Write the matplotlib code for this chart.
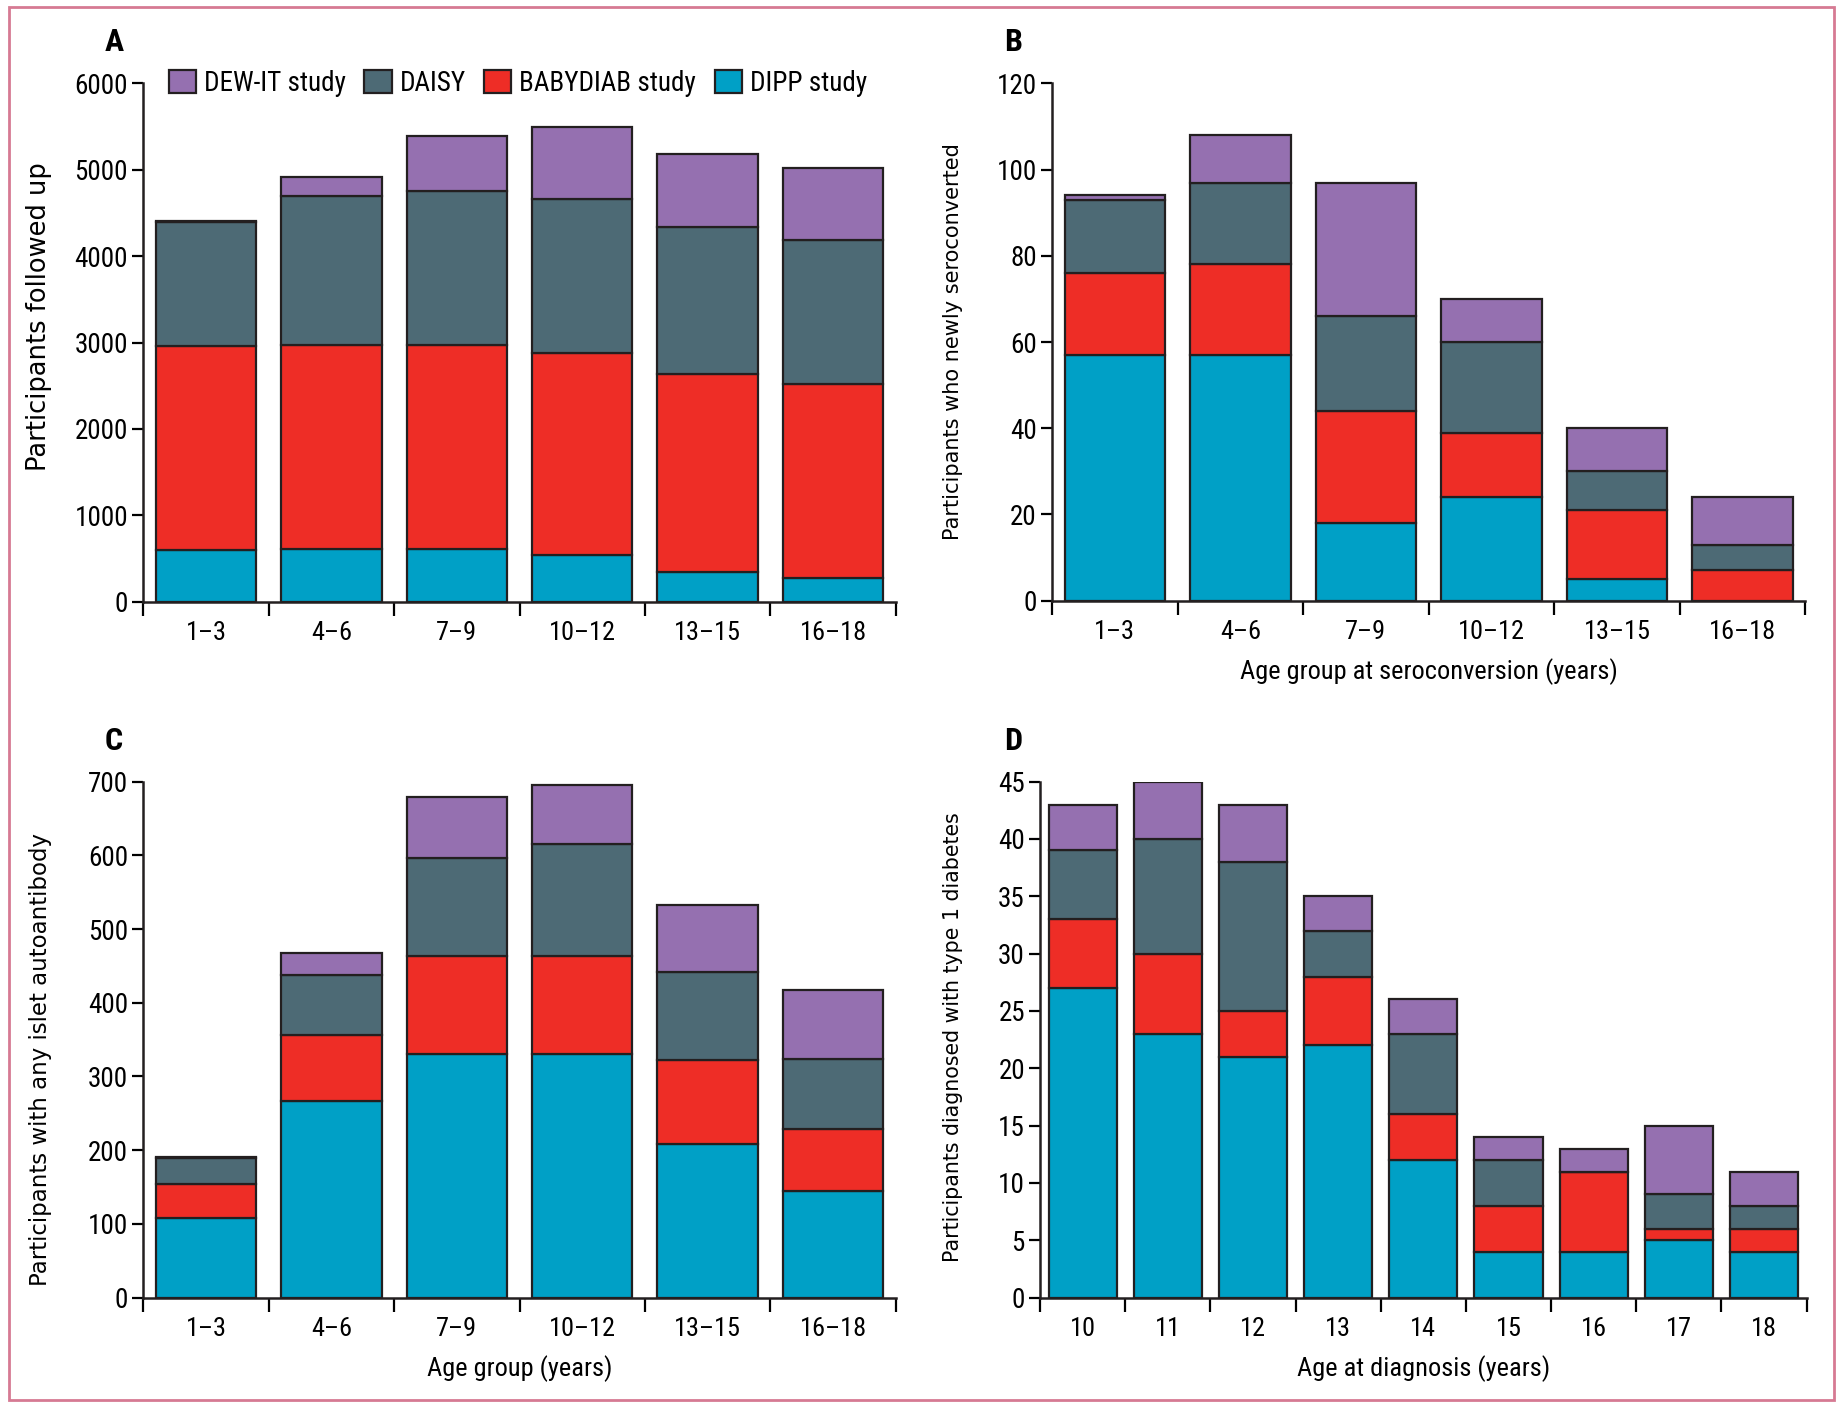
import numpy as np
import matplotlib
matplotlib.use("Agg")
import matplotlib.pyplot as plt
from matplotlib.patches import Rectangle
from matplotlib.ticker import FixedLocator
from matplotlib import font_manager

# studies, stacked bottom -> top
studies = ["DIPP study", "BABYDIAB study", "DAISY", "DEW-IT study"]
colors = ["#00a0c6", "#ee2d26", "#4d6a75", "#9570b0"]
edge = "#231f20"

age_groups = ["1\u20133", "4\u20136", "7\u20139", "10\u201312", "13\u201315", "16\u201318"]
diag_ages = ["10", "11", "12", "13", "14", "15", "16", "17", "18"]

# A: participants followed up
a_dipp = [605, 610, 610, 540, 345, 270]
a_baby = [2350, 2360, 2360, 2335, 2290, 2255]
a_daisy = [1445, 1725, 1790, 1785, 1705, 1665]
a_dew = [10, 225, 635, 830, 840, 830]

# B: newly seroconverted
b_dipp = [57, 57, 18, 24, 5, 0]
b_baby = [19, 21, 26, 15, 16, 7]
b_daisy = [17, 19, 22, 21, 9, 6]
b_dew = [1, 11, 31, 10, 10, 11]

# C: any islet autoantibody
c_dipp = [108, 267, 331, 331, 208, 145]
c_baby = [46, 89, 133, 133, 114, 84]
c_daisy = [36, 82, 133, 152, 120, 95]
c_dew = [1, 30, 82, 79, 90, 93]

# D: diagnosed with type 1 diabetes
d_dipp = [27, 23, 21, 22, 12, 4, 4, 5, 4]
d_baby = [6, 7, 4, 6, 4, 4, 7, 1, 2]
d_daisy = [6, 10, 13, 4, 7, 4, 0, 3, 2]
d_dew = [4, 5, 5, 3, 3, 2, 2, 6, 3]

# pick a narrow face if there is one
have = {f.name for f in font_manager.fontManager.ttflist}
narrow = [f for f in ["Roboto Condensed", "DejaVu Sans Condensed",
                      "Liberation Sans Narrow", "Open Sans Condensed"] if f in have]
narrow = narrow[:1] + ["Roboto", "DejaVu Sans"]
wide = ["DejaVu Sans"]
plt.rcParams["font.family"] = narrow

fig = plt.figure(figsize=(18.43, 14.07), dpi=100)


def panel(rect, labels, series, ymax, ystep, ylabel, ysize, ypos, xlabel=None):
    ax = fig.add_axes(rect)
    x = np.arange(len(labels))
    bottom = np.zeros(len(labels))
    bars = []
    for vals, col in zip(series, colors):
        b = ax.bar(x, vals, 0.8, bottom=bottom, color=col, edgecolor=edge,
                   linewidth=1.6, zorder=2)
        bars.append(b)
        bottom += np.array(vals)
    ax.set_xlim(-0.5, len(labels) - 0.5)
    ax.set_ylim(0, ymax)
    ax.set_yticks(np.arange(0, ymax + 1, ystep))
    ax.set_xticks(x)
    ax.set_xticklabels(labels)
    ax.xaxis.set_minor_locator(FixedLocator(np.arange(-0.5, len(labels), 1.0)))
    ax.tick_params(axis="x", which="major", length=0, labelsize=19, pad=14)
    ax.tick_params(axis="x", which="minor", length=10, width=1.6, direction="out")
    ax.tick_params(axis="y", length=8, width=1.6, labelsize=19.5, pad=3)
    for s in ["top", "right"]:
        ax.spines[s].set_visible(False)
    for s in ["left", "bottom"]:
        ax.spines[s].set_linewidth(1.8)
        ax.spines[s].set_color(edge)
    ax.set_ylabel(ylabel, fontsize=ysize, family=wide)
    ax.yaxis.set_label_coords(ypos[0], ypos[1])
    if xlabel:
        ax.set_xlabel(xlabel, fontsize=19, labelpad=10)
    return ax, bars


axA, barsA = panel([0.0778, 0.5723, 0.4082, 0.3684], age_groups,
                   [a_dipp, a_baby, a_daisy, a_dew], 6000, 1000,
                   "Participants followed up", 18.5, (-0.121, 0.551))
axB, _ = panel([0.5708, 0.5731, 0.4088, 0.3676], age_groups,
               [b_dipp, b_baby, b_daisy, b_dew], 120, 20,
               "Participants who newly seroconverted", 15, (-0.118, 0.5),
               "Age group at seroconversion (years)")
axC, _ = panel([0.0778, 0.0777, 0.4082, 0.3668], age_groups,
               [c_dipp, c_baby, c_daisy, c_dew], 700, 100,
               "Participants with any islet autoantibody", 16.5, (-0.121, 0.462),
               "Age group (years)")
axD, _ = panel([0.5644, 0.0777, 0.4158, 0.3668], diag_ages,
               [d_dipp, d_baby, d_daisy, d_dew], 45, 5,
               "Participants diagnosed with type 1 diabetes", 14.8, (-0.101, 0.505),
               "Age at diagnosis (years)")

handles = [barsA[i][0] for i in [3, 2, 1, 0]]
names = [studies[i] for i in [3, 2, 1, 0]]
axA.legend(handles, names, loc="center left", bbox_to_anchor=(0.034, 1.0),
           ncol=4, frameon=False, fontsize=19.5, handlelength=1.0,
           handleheight=0.95, handletextpad=0.3, columnspacing=0.68,
           borderaxespad=0, borderpad=0)

for lab, xx, yy in [("A", 0.0619, 0.970), ("B", 0.5498, 0.970),
                    ("C", 0.0619, 0.4737), ("D", 0.5498, 0.4737)]:
    fig.text(xx, yy, lab, fontsize=23, fontweight="bold", ha="center",
             va="center")

fig.patches.append(Rectangle((0.005, 0.005), 0.99, 0.99, transform=fig.transFigure,
                             fill=False, edgecolor="#d67a93", linewidth=2))

fig.savefig("out.png", dpi=100)
